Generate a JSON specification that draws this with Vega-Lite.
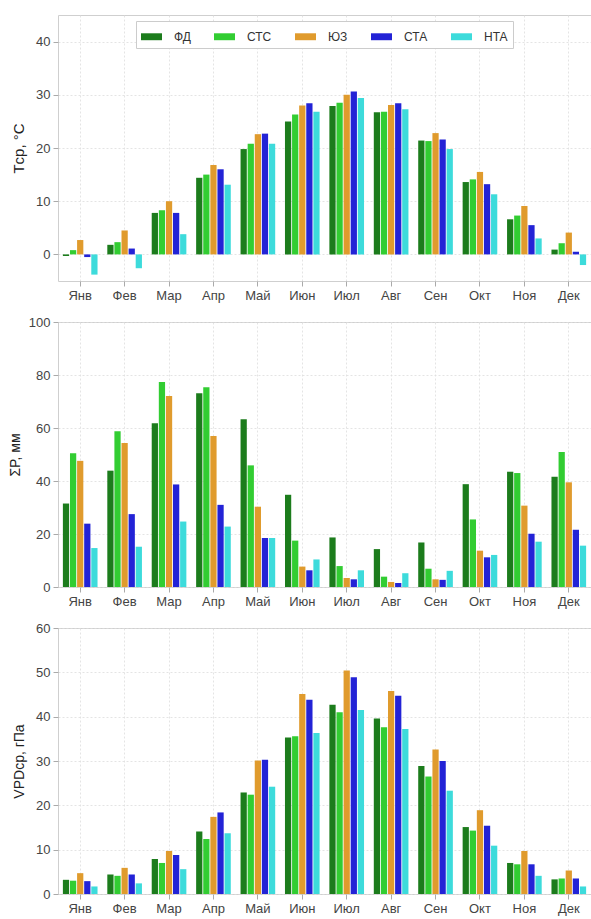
{
  "$schema": "https://vega.github.io/schema/vega-lite/v6.json",
  "autosize": {"type": "pad"},
  "padding": {"left": 7, "top": 14, "right": 0, "bottom": 0},
  "background": "white",
  "config": {
    "font": "Liberation Sans",
    "view": {"stroke": "#cfcfcf", "strokeWidth": 1},
    "axis": {
      "labelFont": "Liberation Sans",
      "labelFontSize": 13,
      "labelColor": "#444444",
      "titleFont": "Liberation Sans",
      "titleColor": "#222222",
      "titleFontWeight": "normal",
      "gridColor": "#dddddd",
      "gridDash": [2, 2],
      "gridWidth": 0.8,
      "domain": false,
      "tickColor": "#aaaaaa",
      "tickSize": 5,
      "labelPadding": 3
    },
    "legend": {"labelFont": "Liberation Sans", "labelFontSize": 12, "labelColor": "#333333"}
  },
  "datasets": {
    "d": [
      {"m":"Янв","s":"ФД","T":-0.3,"P":31.5,"V":3.2},
      {"m":"Янв","s":"СТС","T":0.8,"P":50.5,"V":3.0},
      {"m":"Янв","s":"ЮЗ","T":2.7,"P":47.6,"V":4.7},
      {"m":"Янв","s":"СТА","T":-0.5,"P":23.9,"V":2.9},
      {"m":"Янв","s":"НТА","T":-3.8,"P":14.7,"V":1.7},
      {"m":"Фев","s":"ФД","T":1.8,"P":43.9,"V":4.4},
      {"m":"Фев","s":"СТС","T":2.3,"P":58.8,"V":4.1},
      {"m":"Фев","s":"ЮЗ","T":4.5,"P":54.3,"V":5.9},
      {"m":"Фев","s":"СТА","T":1.1,"P":27.5,"V":4.4},
      {"m":"Фев","s":"НТА","T":-2.6,"P":15.2,"V":2.4},
      {"m":"Мар","s":"ФД","T":7.8,"P":61.8,"V":7.9},
      {"m":"Мар","s":"СТС","T":8.3,"P":77.4,"V":7.0},
      {"m":"Мар","s":"ЮЗ","T":10.0,"P":72.1,"V":9.7},
      {"m":"Мар","s":"СТА","T":7.8,"P":38.7,"V":8.8},
      {"m":"Мар","s":"НТА","T":3.8,"P":24.7,"V":5.6},
      {"m":"Апр","s":"ФД","T":14.4,"P":73.1,"V":14.1},
      {"m":"Апр","s":"СТС","T":15.0,"P":75.4,"V":12.4},
      {"m":"Апр","s":"ЮЗ","T":16.8,"P":57.0,"V":17.4},
      {"m":"Апр","s":"СТА","T":16.0,"P":31.0,"V":18.4},
      {"m":"Апр","s":"НТА","T":13.1,"P":22.8,"V":13.7},
      {"m":"Май","s":"ФД","T":19.8,"P":63.3,"V":22.9},
      {"m":"Май","s":"СТС","T":20.8,"P":45.9,"V":22.4},
      {"m":"Май","s":"ЮЗ","T":22.6,"P":30.3,"V":30.1},
      {"m":"Май","s":"СТА","T":22.7,"P":18.5,"V":30.3},
      {"m":"Май","s":"НТА","T":20.8,"P":18.5,"V":24.2},
      {"m":"Июн","s":"ФД","T":25.0,"P":34.8,"V":35.3},
      {"m":"Июн","s":"СТС","T":26.3,"P":17.5,"V":35.6},
      {"m":"Июн","s":"ЮЗ","T":28.0,"P":7.7,"V":45.1},
      {"m":"Июн","s":"СТА","T":28.4,"P":6.3,"V":43.8},
      {"m":"Июн","s":"НТА","T":26.8,"P":10.4,"V":36.3},
      {"m":"Июл","s":"ФД","T":27.9,"P":18.7,"V":42.7},
      {"m":"Июл","s":"СТС","T":28.5,"P":7.9,"V":41.0},
      {"m":"Июл","s":"ЮЗ","T":30.0,"P":3.4,"V":50.4},
      {"m":"Июл","s":"СТА","T":30.6,"P":2.9,"V":48.9},
      {"m":"Июл","s":"НТА","T":29.4,"P":6.3,"V":41.5},
      {"m":"Авг","s":"ФД","T":26.7,"P":14.3,"V":39.6},
      {"m":"Авг","s":"СТС","T":26.8,"P":3.9,"V":37.6},
      {"m":"Авг","s":"ЮЗ","T":28.1,"P":1.9,"V":45.8},
      {"m":"Авг","s":"СТА","T":28.4,"P":1.5,"V":44.7},
      {"m":"Авг","s":"НТА","T":27.3,"P":5.2,"V":37.2},
      {"m":"Сен","s":"ФД","T":21.4,"P":16.8,"V":28.9},
      {"m":"Сен","s":"СТС","T":21.3,"P":6.9,"V":26.5},
      {"m":"Сен","s":"ЮЗ","T":22.8,"P":2.9,"V":32.6},
      {"m":"Сен","s":"СТА","T":21.6,"P":2.7,"V":30.0},
      {"m":"Сен","s":"НТА","T":19.8,"P":6.1,"V":23.3},
      {"m":"Окт","s":"ФД","T":13.6,"P":38.8,"V":15.1},
      {"m":"Окт","s":"СТС","T":14.1,"P":25.5,"V":14.3},
      {"m":"Окт","s":"ЮЗ","T":15.5,"P":13.7,"V":18.9},
      {"m":"Окт","s":"СТА","T":13.2,"P":11.2,"V":15.4},
      {"m":"Окт","s":"НТА","T":11.3,"P":12.1,"V":10.9},
      {"m":"Ноя","s":"ФД","T":6.6,"P":43.5,"V":7.0},
      {"m":"Ноя","s":"СТС","T":7.3,"P":43.0,"V":6.7},
      {"m":"Ноя","s":"ЮЗ","T":9.1,"P":30.7,"V":9.7},
      {"m":"Ноя","s":"СТА","T":5.5,"P":20.1,"V":6.7},
      {"m":"Ноя","s":"НТА","T":3.0,"P":17.1,"V":4.1},
      {"m":"Дек","s":"ФД","T":0.9,"P":41.6,"V":3.3},
      {"m":"Дек","s":"СТС","T":2.1,"P":50.9,"V":3.5},
      {"m":"Дек","s":"ЮЗ","T":4.1,"P":39.5,"V":5.3},
      {"m":"Дек","s":"СТА","T":0.5,"P":21.6,"V":3.5},
      {"m":"Дек","s":"НТА","T":-2.0,"P":15.6,"V":1.7}
    ]
  },
  "resolve": {"legend": {"color": "independent"}},
  "spacing": 12,
  "vconcat": [
    {
      "width": 533, "height": 266,
      "data": {"name": "d"},
      "mark": {"type": "bar"},
      "encoding": {
        "x": {"field": "m", "type": "nominal", "sort": ["Янв","Фев","Мар","Апр","Май","Июн","Июл","Авг","Сен","Окт","Ноя","Дек"],
              "scale": {"paddingInner": 0.22, "paddingOuter": 0.11},
              "axis": {"title": null, "labelAngle": 0, "bandPosition": 0.5, "grid": true}},
        "xOffset": {"field": "s", "type": "nominal", "sort": ["ФД","СТС","ЮЗ","СТА","НТА"], "scale": {"paddingInner": 0.12}},
        "y": {"field": "T", "type": "quantitative", "stack": null,
              "scale": {"domain": [-5, 45], "nice": false, "zero": false},
              "axis": {"title": "Tср, °C", "titleFontSize": 15, "values": [0,10,20,30,40], "titlePadding": 9}},
        "color": {"field": "s", "type": "nominal", "sort": ["ФД","СТС","ЮЗ","СТА","НТА"],
                  "scale": {"domain": ["ФД","СТС","ЮЗ","СТА","НТА"], "range": ["#1c7c1c","#32cd32","#e09b2d","#2323d6","#3ddbdb"]},
                  "legend": {"title": null, "orient": "none", "legendX": 78, "legendY": 6, "direction": "horizontal", "columns": 5,
                             "symbolType": "M-1,-0.33H1V0.33H-1Z", "symbolSize": 441, "symbolStrokeWidth": 0,
                             "labelOffset": 12, "columnPadding": 23, "padding": 5, "strokeColor": "#cccccc", "fillColor": "white"}}
      }
    },
    {
      "width": 533, "height": 265,
      "data": {"name": "d"},
      "mark": {"type": "bar"},
      "encoding": {
        "x": {"field": "m", "type": "nominal", "sort": ["Янв","Фев","Мар","Апр","Май","Июн","Июл","Авг","Сен","Окт","Ноя","Дек"],
              "scale": {"paddingInner": 0.22, "paddingOuter": 0.11},
              "axis": {"title": null, "labelAngle": 0, "bandPosition": 0.5, "grid": true}},
        "xOffset": {"field": "s", "type": "nominal", "sort": ["ФД","СТС","ЮЗ","СТА","НТА"], "scale": {"paddingInner": 0.12}},
        "y": {"field": "P", "type": "quantitative", "stack": null,
              "scale": {"domain": [0, 100], "nice": false},
              "axis": {"title": "ΣP, мм", "titleFontSize": 14, "values": [0,20,40,60,80,100], "titlePadding": 6}},
        "color": {"field": "s", "type": "nominal", "sort": ["ФД","СТС","ЮЗ","СТА","НТА"],
                  "scale": {"domain": ["ФД","СТС","ЮЗ","СТА","НТА"], "range": ["#1c7c1c","#32cd32","#e09b2d","#2323d6","#3ddbdb"]},
                  "legend": null}
      }
    },
    {
      "width": 533, "height": 266,
      "data": {"name": "d"},
      "mark": {"type": "bar"},
      "encoding": {
        "x": {"field": "m", "type": "nominal", "sort": ["Янв","Фев","Мар","Апр","Май","Июн","Июл","Авг","Сен","Окт","Ноя","Дек"],
              "scale": {"paddingInner": 0.22, "paddingOuter": 0.11},
              "axis": {"title": null, "labelAngle": 0, "bandPosition": 0.5, "grid": true}},
        "xOffset": {"field": "s", "type": "nominal", "sort": ["ФД","СТС","ЮЗ","СТА","НТА"], "scale": {"paddingInner": 0.12}},
        "y": {"field": "V", "type": "quantitative", "stack": null,
              "scale": {"domain": [0, 60], "nice": false},
              "axis": {"title": "VPDср, гПа", "titleFontSize": 14, "values": [0,10,20,30,40,50,60], "titlePadding": 9}},
        "color": {"field": "s", "type": "nominal", "sort": ["ФД","СТС","ЮЗ","СТА","НТА"],
                  "scale": {"domain": ["ФД","СТС","ЮЗ","СТА","НТА"], "range": ["#1c7c1c","#32cd32","#e09b2d","#2323d6","#3ddbdb"]},
                  "legend": null}
      }
    }
  ]
}
